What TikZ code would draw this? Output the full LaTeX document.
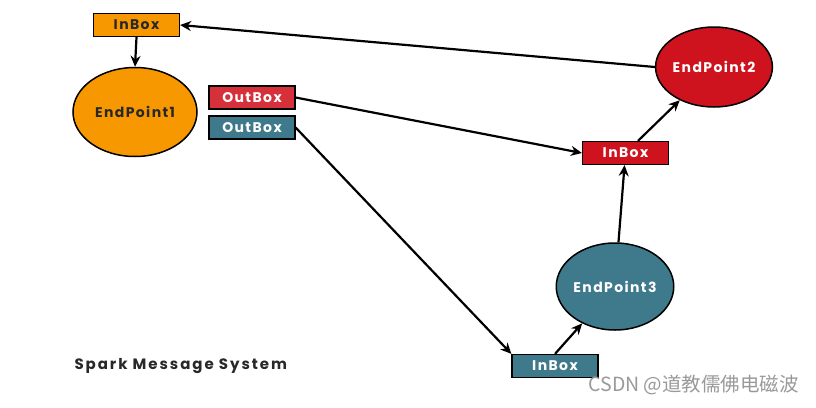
\documentclass[tikz,border=0pt]{standalone}
\usepackage{fontspec}
\setmainfont{Poppins}
\newfontfamily\cjk{Noto Sans CJK SC}
\newfontfamily\wide[LetterSpace=10]{Poppins}
\newfontfamily\widetitle[LetterSpace=13]{Poppins}
\usetikzlibrary{arrows.meta,shapes.geometric}
\definecolor{cOrange}{RGB}{247,152,0}
\definecolor{cRed}{RGB}{206,18,30}
\definecolor{cRedB}{RGB}{214,48,58}
\definecolor{cTeal}{RGB}{62,122,140}
\definecolor{cText}{RGB}{40,40,40}
\tikzset{
  boxnode/.style={draw=black,line width=1.2pt,minimum width=86pt,minimum height=23pt,inner sep=0pt,font=\wide\bfseries\fontsize{14}{15}\selectfont},
  epnode/.style={draw=black,line width=1.5pt,ellipse,inner sep=0pt,font=\wide\bfseries\fontsize{14}{15}\selectfont},
  conn/.style={line width=2.2pt,-{Stealth[length=11pt,width=10pt]}}
}
\begin{document}
\begin{tikzpicture}[x=1pt,y=-1pt]
\useasboundingbox[fill=white] (0,0) rectangle (816,407);
\node[boxnode,fill=cOrange,text=cText] (ib1) at (136.5,25) {InBox};
\node[epnode,fill=cOrange,text=cText,minimum width=124pt,minimum height=89pt] (ep1) at (135,112) {EndPoint1};
\node[boxnode,fill=cRedB,text=white] (ob1) at (252,97.5) {OutBox};
\node[boxnode,fill=cTeal,text=white] (ob2) at (252,127.5) {OutBox};
\node[epnode,fill=cRed,text=white,minimum width=116pt,minimum height=80pt] (ep2) at (714,67) {EndPoint2};
\node[boxnode,fill=cRed,text=white] (ib2) at (625.5,153) {InBox};
\node[epnode,fill=cTeal,text=white,minimum width=116pt,minimum height=87pt] (ep3) at (615,286.5) {EndPoint3};
\node[boxnode,fill=cTeal,text=white] (ib3) at (555,366) {InBox};
\node[anchor=west,font=\widetitle\bfseries\fontsize{15}{16}\selectfont,text=cText] (title) at (71,366) {Spark Message System};
\node[anchor=west,font=\cjk\fontsize{19.5}{20}\selectfont,text=gray!80] (wm) at (585,385) {CSDN @道教儒佛电磁波};
\draw[conn] (ep2.west) -- (ib1.east);
\draw[conn] (ib1.south) -- (ep1.north);
\draw[conn] (ob1.east) -- (ib2.west);
\draw[conn] (ob2.east) -- (ib3.north west);
\draw[conn] (ib3.north) -- (ep3);
\draw[conn] (ep3) -- (ib2);
\draw[conn] (ib2) -- (ep2);
\end{tikzpicture}
\end{document}
